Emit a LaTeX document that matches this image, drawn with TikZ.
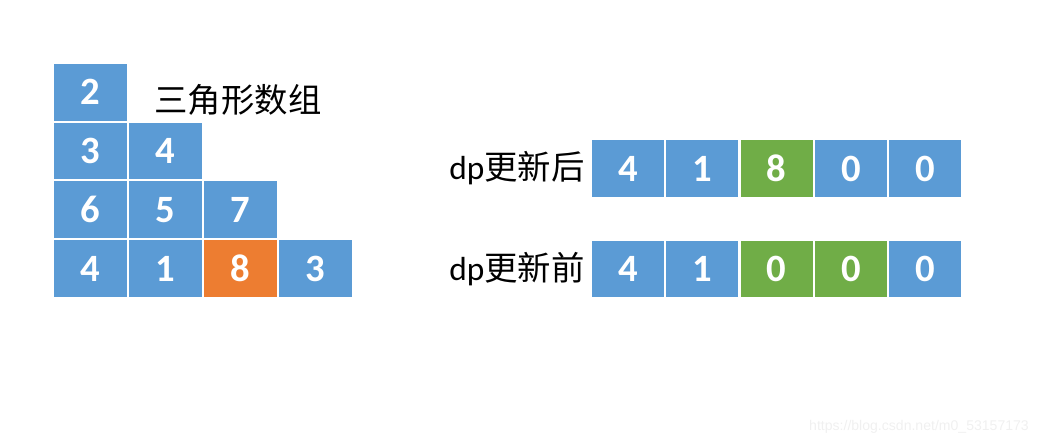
\documentclass[tikz,border=0pt]{standalone}
\usepackage{fontspec}
\setmainfont{Carlito}
\newfontfamily\cjk{Noto Sans CJK SC}
\newfontfamily\markfont{Liberation Sans}
\usetikzlibrary{positioning}
\definecolor{CellBlue}{HTML}{5B9BD5}
\definecolor{CellOrange}{HTML}{ED7D31}
\definecolor{CellGreen}{HTML}{70AD47}
\tikzset{
	cell/.style={ % one square of the triangle
			draw=white,
			line width=0.6pt,
			fill=CellBlue,
			text=white,
			minimum width=1.48cm,
			minimum height=1.155cm,
			inner sep=0pt,
			font=\fontsize{22}{22}\selectfont\bfseries
		},
	slot/.style={cell, minimum width=1.465cm}, % one square of dp
	hot/.style={fill=CellOrange}, % chosen value
	changed/.style={fill=CellGreen}, % updated slots
	rowname/.style={ % text beside the cells
			inner sep=0pt,
			font=\fontsize{19}{19}\selectfont
		}
}

\begin{document}
\begin{tikzpicture}[x=0.02cm, y=-0.02cm]
			\useasboundingbox (0,0) rectangle (1045,446);

			% Triangle
			\node (t11) [cell] at (90.4,92.2) {2};
			\node (t21) [cell, below=0pt of t11] {3};
			\node (t22) [cell, right=0pt of t21] {4};
			\node (t31) [cell, below=0pt of t21] {6};
			\node (t32) [cell, right=0pt of t31] {5};
			\node (t33) [cell, right=0pt of t32] {7};
			\node (t41) [cell, below=0pt of t31] {4};
			\node (t42) [cell, right=0pt of t41] {1};
			\node (t43) [cell, hot, right=0pt of t42] {8};
			\node (t44) [cell, right=0pt of t43] {3};
			\node (title) [rowname] at (238,100) {\cjk 三角形数组};

			% dp after
			\node (a1) [slot] at (628.1,168.5) {4};
			\node (a2) [slot, right=0pt of a1] {1};
			\node (a3) [slot, changed, right=0pt of a2] {8};
			\node (a4) [slot, right=0pt of a3] {0};
			\node (a5) [slot, right=0pt of a4] {0};
			\node (after) [rowname, left=0.12cm of a1] {dp\cjk 更新后};

			% dp before
			\node (b1) [slot] at (628.1,269) {4};
			\node (b2) [slot, right=0pt of b1] {1};
			\node (b3) [slot, changed, right=0pt of b2] {0};
			\node (b4) [slot, changed, right=0pt of b3] {0};
			\node (b5) [slot, right=0pt of b4] {0};
			\node (before) [rowname, left=0.12cm of b1] {dp\cjk 更新前};

			\node (mark) [anchor=east, text=gray!12, font=\markfont\fontsize{8}{8}\selectfont] at (1035,427) {https://blog.csdn.net/m0\_53157173};

		\end{tikzpicture}
\end{document}
